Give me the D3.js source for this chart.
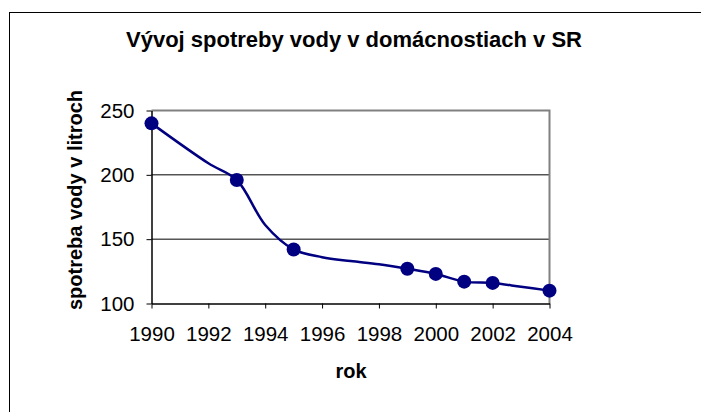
<!DOCTYPE html>
<html lang="sk">
<head>
<meta charset="UTF-8">
<title>Vývoj spotreby vody v domácnostiach v SR</title>
<script src="https://d3js.org/d3.v7.min.js"></script>
<style>
  body { margin: 0; background: #fff; }
  svg { display: block; font-family: "Liberation Sans", Arial, sans-serif; }
</style>
</head>
<body>
<svg id="chart"></svg>
<script>
  // data
  const lineYears = [1990, 1992, 1993, 1994, 1995, 1996, 1997, 1998, 1999, 2000, 2001, 2002, 2003, 2004];
  const lineValues = [240, 209, 196, 161, 142, 136, 133, 130.5, 127, 123, 117, 116, 113, 110];
  const markerYears = [1990, 1993, 1995, 1999, 2000, 2001, 2002, 2004];
  const xTicks = [1990, 1992, 1994, 1996, 1998, 2000, 2002, 2004];
  const yTicks = [100, 150, 200, 250];

  const width = 701, height = 412;
  const plot = { left: 151.5, right: 549.5, top: 110.5, bottom: 303.5 };

  const svg = d3.select("#chart").attr("width", width).attr("height", height);

  // outer chart frame (runs off the right and bottom edges)
  svg.append("rect")
    .attr("x", 9.5).attr("y", 12.5)
    .attr("width", 720).attr("height", 420)
    .attr("fill", "none").attr("stroke", "#000").attr("stroke-width", 1);

  const x = d3.scaleLinear().domain([1990, 2004]).range([plot.left, plot.right]);
  const y = d3.scaleLinear().domain([100, 250]).range([plot.bottom, plot.top]);

  // gridlines
  svg.append("g").selectAll("line")
    .data(yTicks.filter(d => d > 100 && d < 250))
    .join("line")
    .attr("x1", plot.left).attr("x2", plot.right)
    .attr("y1", d => y(d)).attr("y2", d => y(d))
    .attr("stroke", "#000").attr("stroke-width", 1);

  // plot area border (grey top/right)
  svg.append("path")
    .attr("d", `M${plot.left},${plot.top}H${plot.right}V${plot.bottom}`)
    .attr("fill", "none").attr("stroke", "#808080").attr("stroke-width", 2);

  // axes
  const xAxis = d3.axisBottom(x).tickValues(xTicks).tickFormat(d3.format("d"))
    .tickSizeInner(5).tickSizeOuter(0).tickPadding(18);
  const yAxis = d3.axisLeft(y).tickValues(yTicks)
    .tickSizeInner(5).tickSizeOuter(0).tickPadding(12);

  const gx = svg.append("g").attr("transform", `translate(0,${plot.bottom})`).call(xAxis);
  const gy = svg.append("g").attr("transform", `translate(${plot.left},0)`).call(yAxis);

  [gx, gy].forEach(g => {
    g.select(".domain").attr("stroke", "#000").attr("stroke-width", 1.5);
    g.selectAll(".tick line").attr("stroke", "#000");
    g.selectAll(".tick text")
      .attr("fill", "#000")
      .style("font-family", "'Liberation Sans', Arial, sans-serif")
      .style("font-size", "20.5px");
  });

  // smoothed line
  const pts = lineYears.map((yr, i) => [yr, lineValues[i]]);
  svg.append("path")
    .datum(pts)
    .attr("fill", "none")
    .attr("stroke", "#000080")
    .attr("stroke-width", 2.5)
    .attr("d", d3.line().x(d => x(d[0])).y(d => y(d[1])).curve(d3.curveCatmullRom.alpha(0.5)));

  // markers
  svg.append("g").selectAll("circle")
    .data(pts.filter(d => markerYears.includes(d[0])))
    .join("circle")
    .attr("cx", d => x(d[0]))
    .attr("cy", d => y(d[1]))
    .attr("r", 7)
    .attr("fill", "#000080");

  // titles
  svg.append("text")
    .attr("x", 354).attr("y", 47)
    .attr("text-anchor", "middle")
    .attr("font-weight", "bold")
    .attr("font-size", 22)
    .text("Vývoj spotreby vody v domácnostiach v SR");

  svg.append("text")
    .attr("x", 351).attr("y", 378)
    .attr("text-anchor", "middle")
    .attr("font-weight", "bold")
    .attr("font-size", 20)
    .text("rok");

  svg.append("text")
    .attr("transform", `translate(82,${(plot.top + plot.bottom) / 2 - 7}) rotate(-90)`)
    .attr("text-anchor", "middle")
    .attr("font-weight", "bold")
    .attr("font-size", 20)
    .text("spotreba vody v litroch");
</script>
</body>
</html>
